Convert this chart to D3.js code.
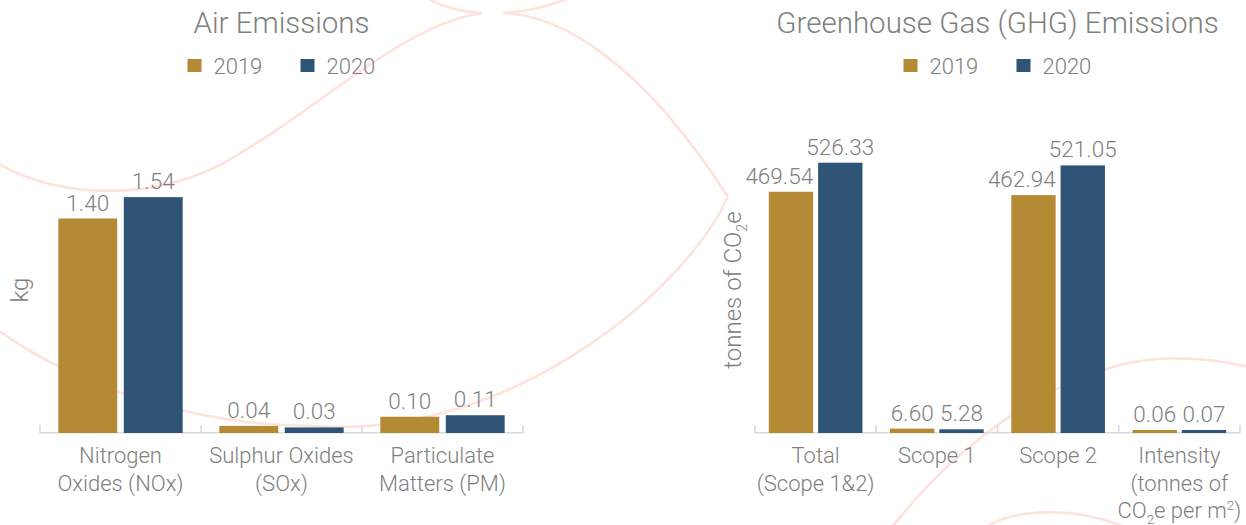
<!DOCTYPE html>
<html>
<head>
<meta charset="utf-8">
<script src="https://cdn.jsdelivr.net/npm/d3@7"></script>
<style>
  html, body { margin: 0; padding: 0; background: #ffffff; }
  svg { display: block; font-family: "Roboto", "Liberation Sans", sans-serif; font-weight: 300; }
</style>
</head>
<body>
<svg id="chart" width="1246" height="525"></svg>
<script>
// ---------- data ----------
const years = ["2019", "2020"];

const airTitle = "Air Emissions";
const airUnit = "kg";
const airCategories = ["Nitrogen\nOxides (NOx)", "Sulphur Oxides\n(SOx)", "Particulate\nMatters (PM)"];
const air2019 = [1.40, 0.04, 0.10];
const air2020 = [1.54, 0.03, 0.11];

const ghgTitle = "Greenhouse Gas (GHG) Emissions";
const ghgUnit = "tonnes of CO₂e";
const ghgCategories = ["Total\n(Scope 1&2)", "Scope 1", "Scope 2", "Intensity\n(tonnes of\nCO₂e per m²)"];
const ghg2019 = [469.54, 6.60, 462.94, 0.06];
const ghg2020 = [526.33, 5.28, 521.05, 0.07];

// ---------- style ----------
const colors = { "2019": "#b48a35", "2020": "#305476" };
const textColor = "#808080";
const axisColor = "#dcdcdc";
const curveColor = "#fde3dc";

const svg = d3.select("#chart");

// decorative background line art
const bg = svg.append("g").attr("fill", "none").attr("stroke", curveColor).attr("stroke-width", 2.6);
[
  "M-5,162 C60,200 150,200 220,165 C320,110 400,25 482,13",
  "M482,13 C460,12 440,6 425,-3",
  "M503,13 C525,12 550,6 572,-3",
  "M503,13 C560,15 640,60 728,197",
  "M728,197 C680,300 500,440 316,426 C200,426 80,390 -5,328",
  "M1104,370 C1140,356 1200,354 1252,368",
  "M1104,370 C1040,390 960,440 888,532",
  "M985,528 C1010,510 1070,505 1122,526"
].forEach(d => bg.append("path").attr("d", d));

// writes text with ₂ / ² rendered as small lowered / raised digits
function richText(sel, str, size) {
  const parts = str.split(/([₂²])/).filter(p => p);
  let pendingDy = 0;
  parts.forEach(p => {
    if (p === "₂" || p === "²") {
      const shift = p === "₂" ? size * 0.25 : -size * 0.35;
      sel.append("tspan").attr("font-size", size * 0.6).attr("dy", pendingDy + shift).text("2");
      pendingDy = -shift;
    } else {
      const t = sel.append("tspan").attr("font-size", size).text(p);
      if (pendingDy) t.attr("dy", pendingDy);
      pendingDy = 0;
    }
  });
}

function drawChart(cfg) {
  const g = svg.append("g");
  const data = cfg.categories.map((c, i) => ({ cat: c, values: [cfg.v2019[i], cfg.v2020[i]] }));

  const x0 = d3.scaleBand().domain(cfg.categories).range(cfg.xRange).paddingInner(0).paddingOuter(0);
  const x1 = d3.scaleBand().domain(years).range([0, x0.bandwidth()]).paddingInner(0.1).paddingOuter(0.28);
  const y = d3.scaleLinear().domain(cfg.yDomain).range(cfg.yRange);
  const base = y(0);
  const cx = (cfg.xRange[0] + cfg.xRange[1]) / 2;

  // title
  g.append("text").attr("x", cx).attr("y", 33).attr("text-anchor", "middle")
    .attr("font-size", 29.5).attr("fill", textColor).text(cfg.title);

  // legend (centered under the title)
  const legend = g.append("g").attr("font-size", 22).attr("fill", textColor);
  const itemW = 113, legW = itemW + 75;
  years.forEach((yr, i) => {
    const lx = cx - legW / 2 + i * itemW;
    legend.append("rect").attr("x", lx).attr("y", 59).attr("width", 14).attr("height", 13).attr("fill", colors[yr]);
    legend.append("text").attr("x", lx + 26).attr("y", 74).text(yr);
  });

  // axis line + ticks at band boundaries
  const ax = g.append("g").attr("stroke", axisColor).attr("stroke-width", 1.6);
  ax.append("line").attr("x1", cfg.xRange[0]).attr("x2", cfg.xRange[1]).attr("y1", base + 0.8).attr("y2", base + 0.8);
  const bounds = cfg.categories.map(c => x0(c)).concat([cfg.xRange[1]]);
  bounds.forEach(b => ax.append("line").attr("x1", b).attr("x2", b).attr("y1", base - 7).attr("y2", base + 1.6));

  // bars
  const groups = g.selectAll(".grp").data(data).join("g").attr("transform", d => `translate(${x0(d.cat)},0)`);
  groups.selectAll("rect").data(d => d.values.map((v, i) => ({ v, yr: years[i] })))
    .join("rect")
    .attr("x", d => x1(d.yr))
    .attr("width", x1.bandwidth())
    .attr("y", d => Math.min(y(d.v), base - 2))
    .attr("height", d => Math.max(base - y(d.v), 2) + 1)
    .attr("fill", d => colors[d.yr]);

  // value labels
  const fmt = d3.format(".2f");
  groups.selectAll("text.val").data(d => d.values.map((v, i) => ({ v, yr: years[i] })))
    .join("text").attr("class", "val")
    .attr("font-size", 22.5).attr("fill", textColor)
    .attr("y", d => Math.min(y(d.v), base - 2) - 8)
    .text(d => fmt(d.v))
    .each(function (d) {
      const t = d3.select(this);
      const w = this.getComputedTextLength();
      if (d.yr === years[0] && w > x1.bandwidth() + 4) {
        t.attr("x", x1(d.yr) + x1.bandwidth()).attr("text-anchor", "end");
      } else {
        t.attr("x", x1(d.yr) + x1.bandwidth() / 2).attr("text-anchor", "middle");
      }
    });

  // category labels
  data.forEach(d => {
    const lines = d.cat.split("\n");
    lines.forEach((ln, i) => {
      const t = g.append("text").attr("x", x0(d.cat) + x0.bandwidth() / 2).attr("y", 463 + i * 27.5)
        .attr("text-anchor", "middle").attr("font-size", 22).attr("fill", textColor);
      richText(t, ln, 22);
    });
  });

  // y-axis title
  const yt = g.append("text")
    .attr("transform", `translate(${cfg.yTitleX},290) rotate(-90)`)
    .attr("text-anchor", "middle").attr("font-size", 24).attr("fill", textColor);
  richText(yt, cfg.unit, 24);
}

drawChart({
  title: airTitle, unit: airUnit, categories: airCategories, v2019: air2019, v2020: air2020,
  xRange: [40, 523], yDomain: [0, 1.6], yRange: [432, 188], yTitleX: 28
});
drawChart({
  title: ghgTitle, unit: ghgUnit, categories: ghgCategories, v2019: ghg2019, v2020: ghg2020,
  xRange: [755, 1240], yDomain: [0, 600], yRange: [432, 125], yTitleX: 741
});
</script>
</body>
</html>
